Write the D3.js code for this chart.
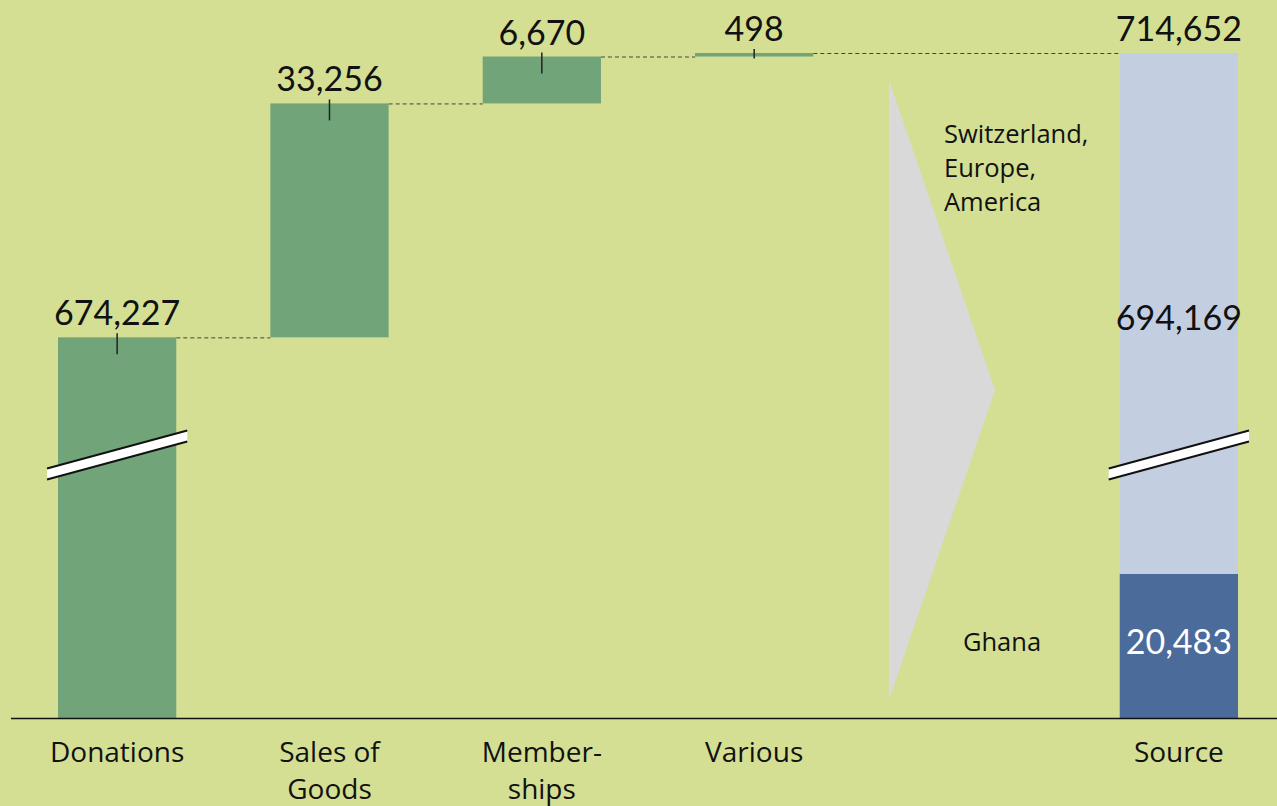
<!DOCTYPE html>
<html>
<head>
<meta charset="utf-8">
<script src="https://cdn.jsdelivr.net/npm/d3@7"></script>
<style>
  body { margin:0; background:#d4df93; }
  svg { display:block; }
  .num { font-family:"Lato","Noto Sans",sans-serif; font-size:34px; fill:#111; }
  .cat { font-family:"Open Sans","Noto Sans",sans-serif; font-size:28px; fill:#111; }
  .note { font-family:"Open Sans","Noto Sans",sans-serif; font-size:25.5px; fill:#111; }
</style>
</head>
<body>
<svg width="1277" height="806"></svg>
<script>
// data
const categories = ['Donations', 'Sales of Goods', 'Memberships', 'Various', 'gap', 'Source'];
const catLines = [['Donations'], ['Sales of', 'Goods'], ['Member-', 'ships'], ['Various'], [], ['Source']];
const increments = [674227, 33256, 6670, 498];
const sourceNames = ['Ghana', 'Switzerland, Europe, America'];
const sourceValues = [20483, 694169];
const total = 714652;

function Start(){
    const svg = d3.select('svg');
    const width = +svg.attr('width');
    const height = +svg.attr('height');

    svg.append('rect').attr('width', width).attr('height', height).attr('fill', '#d4df93');

    const baseY = 718;
    const breakY = 455;

    const x = d3.scaleBand()
        .domain(categories)
        .range([58, 1238])
        .paddingInner(0.443)
        .paddingOuter(0);

    // broken axis: lower part and upper part share the same px per unit
    const y = d3.scaleLinear()
        .domain([0, 37400, 657500, total])
        .range([baseY, breakY, breakY, 53]);

    const fmt = d3.format(',');

    // waterfall steps
    let cum = 0;
    const steps = increments.map((v, i) => {
        const s = { cat: categories[i], start: cum, end: cum + v, value: v };
        cum += v;
        return s;
    });

    const bw = x.bandwidth();

    // arrow
    const ax0 = 889, ax1 = 995;
    svg.append('path')
        .attr('d', `M${ax0},80 L${ax1},390 L${ax0},700 Z`)
        .attr('fill', '#d9d9d9');

    // connectors
    steps.forEach((s, i) => {
        const nextCat = i < steps.length - 1 ? categories[i + 1] : 'Source';
        svg.append('line')
            .attr('x1', x(s.cat) + bw).attr('x2', x(nextCat))
            .attr('y1', y(s.end) + 0.5).attr('y2', y(s.end) + 0.5)
            .attr('stroke', '#444').attr('stroke-width', 1)
            .attr('stroke-dasharray', '4,3');
    });

    // green bars
    svg.selectAll('rect.step').data(steps)
        .enter().append('rect')
            .attr('class', 'step')
            .attr('x', d => x(d.cat))
            .attr('y', d => y(d.end))
            .attr('width', bw)
            .attr('height', d => y(d.start) - y(d.end))
            .attr('fill', '#72a47a');

    // source stacked bar
    let sc = 0;
    const parts = sourceValues.map((v, i) => {
        const p = { name: sourceNames[i], start: sc, end: sc + v, value: v };
        sc += v;
        return p;
    });
    const partColors = ['#4b6b9b', '#c3cfe1'];
    svg.selectAll('rect.part').data(parts)
        .enter().append('rect')
            .attr('class', 'part')
            .attr('x', x('Source'))
            .attr('y', d => y(d.end))
            .attr('width', bw)
            .attr('height', d => y(d.start) - y(d.end))
            .attr('fill', (d, i) => partColors[i]);

    // break marks
    const drawBreak = cx => {
        const x0 = cx - bw / 2 - 11, x1 = cx + bw / 2 + 11;
        const rise = 38, half = 5.5;
        const yl = breakY + rise / 2, yr = breakY - rise / 2;
        svg.append('path')
            .attr('d', `M${x0},${yl - half} L${x1},${yr - half} L${x1},${yr + half} L${x0},${yl + half} Z`)
            .attr('fill', '#fff');
        [-half, half].forEach(o => {
            svg.append('line')
                .attr('x1', x0).attr('y1', yl + o)
                .attr('x2', x1).attr('y2', yr + o)
                .attr('stroke', '#111').attr('stroke-width', 2);
        });
    };
    drawBreak(x('Donations') + bw / 2);
    drawBreak(x('Source') + bw / 2);

    // value labels with ticks
    steps.forEach(s => {
        const cx = x(s.cat) + bw / 2;
        const top = y(s.end);
        const h = y(s.start) - top;
        svg.append('line')
            .attr('x1', cx).attr('x2', cx)
            .attr('y1', top - 4).attr('y2', top + Math.min(17, h + 2))
            .attr('stroke', '#222').attr('stroke-width', 1.5);
        svg.append('text')
            .attr('class', 'num')
            .attr('x', cx).attr('y', top - 12)
            .attr('text-anchor', 'middle')
            .text(fmt(s.value));
    });

    const sx = x('Source') + bw / 2;
    svg.append('text').attr('class', 'num')
        .attr('x', sx).attr('y', y(total) - 12)
        .attr('text-anchor', 'middle').text(fmt(total));
    svg.append('text').attr('class', 'num')
        .attr('x', sx).attr('y', 330)
        .attr('text-anchor', 'middle').text(fmt(sourceValues[1]));
    svg.append('text').attr('class', 'num')
        .attr('x', sx).attr('y', 654)
        .attr('text-anchor', 'middle').style('fill', '#fff')
        .text(fmt(sourceValues[0]));

    // source part names
    const sw = svg.append('text').attr('class', 'note').attr('x', 944).attr('y', 143);
    ['Switzerland,', 'Europe,', 'America'].forEach((t, i) => {
        sw.append('tspan').attr('x', 944).attr('dy', i ? 34 : 0).text(t);
    });
    svg.append('text').attr('class', 'note')
        .attr('x', 1002).attr('y', 651)
        .attr('text-anchor', 'middle').text(sourceNames[0]);

    // baseline
    svg.append('line')
        .attr('x1', 11).attr('x2', width)
        .attr('y1', baseY + 0.5).attr('y2', baseY + 0.5)
        .attr('stroke', '#111').attr('stroke-width', 1.5);

    // category labels
    categories.forEach((c, i) => {
        const t = svg.append('text').attr('class', 'cat')
            .attr('text-anchor', 'middle')
            .attr('y', 762);
        catLines[i].forEach((line, j) => {
            t.append('tspan')
                .attr('x', x(c) + bw / 2)
                .attr('dy', j ? 37 : 0)
                .text(line);
        });
    });
}
Start();
</script>
</body>
</html>
